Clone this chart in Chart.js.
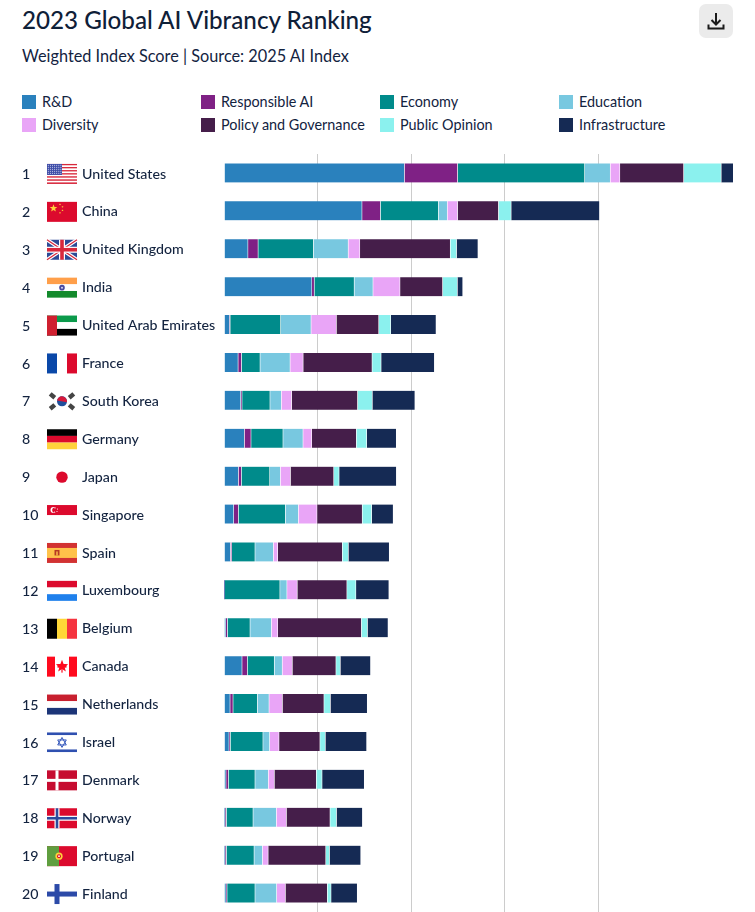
<!DOCTYPE html>
<html>
<head>
<meta charset="utf-8">
<title>2023 Global AI Vibrancy Ranking</title>
<script src="https://cdn.jsdelivr.net/npm/chart.js@4"></script>
<style>
    html, body { margin: 0; padding: 0; background: #fff; overflow: hidden; }
    body { width: 755px; height: 912px; position: relative; font-family: Lato, sans-serif; color: #13233f; }
    h1 { position: absolute; left: 22px; top: 3px; margin: 0; font-size: 24.2px; line-height: 34px; font-weight: 500; color: #0f2038; white-space: nowrap; }
    #subtitle { position: absolute; left: 22px; top: 45px; font-size: 16.3px; line-height: 22px; white-space: nowrap; }
    #download { position: absolute; left: 699px; top: 4px; width: 34px; height: 34px; border-radius: 7px; background: #ebebeb; }
    #download svg { display: block; margin: 7px; }
    .legend-item { position: absolute; font-size: 14.4px; line-height: 14px; white-space: nowrap; }
    .legend-item span { position: absolute; left: 0; top: 0; width: 14px; height: 14px; }
    .legend-item div { position: absolute; left: 20px; top: 0; }
    #chart-box { position: absolute; left: 0; top: 154px; width: 755px; height: 758px; }
</style>
</head>
<body>
<h1>2023 Global AI Vibrancy Ranking</h1>
<div id="subtitle">Weighted Index Score | Source: 2025 AI Index</div>
<div id="download">
    <svg width="20" height="20" viewBox="0 0 20 20" fill="none" stroke="#1a1a1a" stroke-width="2">
        <path d="M10 2V13M5.5 9L10 13.5L14.5 9M2.5 13.5V17.5H17.5V13.5"/>
    </svg>
</div>
<div id="legend"></div>
<div id="chart-box"><canvas id="rankingChart"></canvas></div>

<script>
// --- DATA ---
const countries = ['United States', 'China', 'United Kingdom', 'India', 'United Arab Emirates', 'France', 'South Korea', 'Germany', 'Japan', 'Singapore', 'Spain', 'Luxembourg', 'Belgium', 'Canada', 'Netherlands', 'Israel', 'Denmark', 'Norway', 'Portugal', 'Finland'];

const rd = [19.27, 14.74, 2.55, 9.38, 0.58, 1.50, 1.78, 2.17, 1.53, 1.03, 0.68, 0.04, 0.18, 1.92, 0.64, 0.53, 0.21, 0.11, 0.11, 0.21];
const responsibleAi = [5.69, 1.97, 1.09, 0.26, 0.07, 0.36, 0.14, 0.71, 0.32, 0.50, 0.14, 0.03, 0.18, 0.57, 0.32, 0.14, 0.25, 0.14, 0.14, 0.11];
const economy = [13.58, 6.20, 5.91, 4.27, 5.40, 1.99, 2.99, 3.42, 3.03, 5.02, 2.49, 5.90, 2.42, 2.88, 2.60, 3.49, 2.85, 2.85, 2.96, 2.99];
const education = [2.74, 0.95, 3.72, 2.01, 3.25, 3.21, 1.21, 2.14, 1.14, 1.39, 1.96, 0.75, 2.28, 0.85, 1.25, 0.71, 1.42, 2.49, 0.89, 2.31];
const diversity = [1.02, 1.09, 1.24, 2.88, 2.70, 1.39, 1.10, 0.93, 1.07, 1.99, 0.46, 1.10, 0.68, 1.07, 1.42, 1.00, 0.64, 1.07, 0.61, 0.93];
const policy = [6.82, 4.38, 9.67, 4.56, 4.53, 7.37, 7.05, 4.77, 4.63, 4.84, 6.91, 5.31, 8.94, 4.67, 4.45, 4.38, 4.49, 4.67, 6.16, 4.49];
const publicOpinion = [4.01, 1.35, 0.66, 1.57, 1.28, 0.96, 1.57, 1.10, 0.57, 1.00, 0.64, 0.96, 0.64, 0.46, 0.68, 0.57, 0.61, 0.68, 0.39, 0.39];
const infrastructure = [1.31, 9.45, 2.30, 0.58, 4.85, 5.70, 4.56, 3.17, 6.13, 2.31, 4.38, 3.53, 2.21, 3.24, 3.95, 4.42, 4.52, 2.78, 3.35, 2.81];

const seriesNames = ['R&D', 'Responsible AI', 'Economy', 'Education', 'Diversity', 'Policy and Governance', 'Public Opinion', 'Infrastructure'];
const seriesValues = [rd, responsibleAi, economy, education, diversity, policy, publicOpinion, infrastructure];
const seriesColors = ['#2a81bd', '#7f2185', '#008b8b', '#78c8e0', '#e9a5f7', '#451e4a', '#8bf1ee', '#152a54'];

// --- LEGEND ---
const legendColumns = [22, 201, 380, 559];
const legendRows = [95, 118];
seriesNames.forEach((name, i) => {
    const item = document.createElement('div');
    item.className = 'legend-item';
    item.style.left = legendColumns[i % 4] + 'px';
    item.style.top = legendRows[Math.floor(i / 4)] + 'px';
    item.innerHTML = `<span style="background:${seriesColors[i]}"></span><div>${name.replace('&', '&amp;')}</div>`;
    document.getElementById('legend').appendChild(item);
});

// --- FLAGS (each drawn in a 30x20 box) ---
function rect(c, color, x, y, w, h) {
    c.fillStyle = color;
    c.fillRect(x, y, w, h);
}
function disc(c, color, x, y, r) {
    c.fillStyle = color;
    c.beginPath();
    c.arc(x, y, r, 0, Math.PI * 2);
    c.fill();
}
function hStripes(c, colors) {
    const h = 20 / colors.length;
    colors.forEach((color, i) => rect(c, color, 0, i * h, 30, h));
}
function vStripes(c, colors) {
    const w = 30 / colors.length;
    colors.forEach((color, i) => rect(c, color, i * w, 0, w, 20));
}
function star(c, color, x, y, r) {
    c.fillStyle = color;
    c.beginPath();
    for (let i = 0; i < 10; i++) {
        const a = -Math.PI / 2 + i * Math.PI / 5;
        const d = i % 2 ? r * 0.42 : r;
        c.lineTo(x + Math.cos(a) * d, y + Math.sin(a) * d);
    }
    c.closePath();
    c.fill();
}
function nordicCross(c, color, size) {
    rect(c, color, 10 - size / 2, 0, size, 20);
    rect(c, color, 0, 10 - size / 2, 30, size);
}

const flags = {
    'United States': c => {
        for (let i = 0; i < 13; i++) rect(c, i % 2 ? '#fff' : '#d8283c', 0, i * 20 / 13, 30, 20 / 13);
        rect(c, '#3f4ea8', 0, 0, 15, 11);
        for (let row = 0; row < 5; row++) {
            for (let col = 0; col < 7; col++) disc(c, '#e8e8f8', 1.3 + col * 2.1, 1.4 + row * 2, 0.5);
        }
    },
    'China': c => {
        rect(c, '#dc0a2d', 0, 0, 30, 20);
        star(c, '#ffd23c', 6.5, 6.5, 4);
        [[13, 2.5], [15.5, 5], [15.5, 8.5], [13, 11]].forEach(p => star(c, '#ffd23c', p[0], p[1], 1.2));
    },
    'United Kingdom': c => {
        rect(c, '#2c4a96', 0, 0, 30, 20);
        c.lineCap = 'butt';
        [['#fff', 3.6], ['#d8283c', 1.3]].forEach(s => {
            c.strokeStyle = s[0];
            c.lineWidth = s[1];
            c.beginPath();
            c.moveTo(0, 0); c.lineTo(30, 20);
            c.moveTo(30, 0); c.lineTo(0, 20);
            c.stroke();
        });
        rect(c, '#fff', 12, 0, 6, 20);
        rect(c, '#fff', 0, 7, 30, 6);
        rect(c, '#d8283c', 13.2, 0, 3.6, 20);
        rect(c, '#d8283c', 0, 8.2, 30, 3.6);
    },
    'India': c => {
        hStripes(c, ['#ff9f4a', '#fff', '#138a2c']);
        disc(c, '#4a4aa0', 15, 10, 2.8);
        disc(c, '#d8d8f0', 15, 10, 1);
    },
    'United Arab Emirates': c => {
        hStripes(c, ['#0b9a4b', '#fff', '#000']);
        rect(c, '#cf2030', 0, 0, 10, 20);
    },
    'France': c => vStripes(c, ['#0a48a8', '#fff', '#dc0a2d']),
    'South Korea': c => {
        [[5.5, 4.5, 0.7], [24.5, 4.5, -0.7], [5.5, 15.5, -0.7], [24.5, 15.5, 0.7]].forEach(t => {
            c.save();
            c.translate(t[0], t[1]);
            c.rotate(t[2]);
            rect(c, '#444', -3, -2.2, 6, 4.4);
            c.restore();
        });
        disc(c, '#1f4f9c', 15, 10, 5);
        c.fillStyle = '#d8183a';
        c.beginPath();
        c.arc(15, 10, 5, Math.PI * 1.05, Math.PI * 2.05);
        c.fill();
    },
    'Germany': c => hStripes(c, ['#000', '#dc0a2d', '#ffd23c']),
    'Japan': c => disc(c, '#dc0a2d', 15, 10, 5.7),
    'Singapore': c => {
        rect(c, '#dc0a2d', 0, 0, 30, 10);
        disc(c, '#fff', 6.5, 5, 3);
        disc(c, '#dc0a2d', 7.8, 5, 2.6);
        [[8, 3], [10.5, 4], [10, 6.5], [7.5, 7]].forEach(p => disc(c, '#fff', p[0], p[1], 0.55));
    },
    'Spain': c => {
        rect(c, '#d23232', 0, 0, 30, 20);
        rect(c, '#ffc24a', 0, 5, 30, 10);
        rect(c, '#b83a22', 7.5, 7, 5, 5.5);
        rect(c, '#ffc24a', 9.3, 8.5, 1.4, 4);
    },
    'Luxembourg': c => hStripes(c, ['#dc0a2d', '#fff', '#1f80ec']),
    'Belgium': c => vStripes(c, ['#000', '#ffd737', '#f5333f']),
    'Canada': c => {
        rect(c, '#ff0a1e', 0, 0, 8, 20);
        rect(c, '#ff0a1e', 22, 0, 8, 20);
        star(c, '#ff0a1e', 15, 9.5, 6.5);
        rect(c, '#ff0a1e', 14.4, 11, 1.2, 5);
        rect(c, '#ff0a1e', 10.5, 7.5, 9, 3.5);
    },
    'Netherlands': c => hStripes(c, ['#c8202f', '#fff', '#1c3578']),
    'Israel': c => {
        rect(c, '#2f50b0', 0, 0, 30, 2.6);
        rect(c, '#2f50b0', 0, 17, 30, 2.6);
        c.strokeStyle = '#3558bc';
        c.lineWidth = 1;
        [-1, 1].forEach(d => {
            c.beginPath();
            c.moveTo(15, 10 + d * 5);
            c.lineTo(15 + 4.3, 10 - d * 2.5);
            c.lineTo(15 - 4.3, 10 - d * 2.5);
            c.closePath();
            c.stroke();
        });
    },
    'Denmark': c => {
        rect(c, '#c60c30', 0, 0, 30, 20);
        nordicCross(c, '#fff', 3);
    },
    'Norway': c => {
        rect(c, '#dc0a2d', 0, 0, 30, 20);
        nordicCross(c, '#fff', 5);
        nordicCross(c, '#2c4a9c', 2.6);
    },
    'Portugal': c => {
        rect(c, '#dc0a2d', 0, 0, 30, 20);
        rect(c, '#5f9e3f', 0, 0, 12, 20);
        disc(c, '#ffd23c', 12, 10, 3.6);
        disc(c, '#dc0a2d', 12, 10, 2);
        disc(c, '#fff', 12, 10, 0.9);
    },
    'Finland': c => nordicCross(c, '#2c4aa8', 5)
};

// Draws the rank number and the flag to the left of each country name
const rowHeadPlugin = {
    id: 'rowHead',
    afterDraw(chart) {
        const c = chart.ctx;
        const yScale = chart.scales.y;
        countries.forEach((name, i) => {
            const y = yScale.getPixelForTick(i);
            c.save();
            c.font = '500 14.2px Lato, sans-serif';
            c.fillStyle = '#13233f';
            c.textAlign = 'left';
            c.textBaseline = 'middle';
            c.fillText(String(i + 1), 22, y + 1.5);
            c.translate(47, y - 9);
            flags[name](c);
            c.restore();
        });
    }
};

// --- CHART ---
new Chart(document.getElementById('rankingChart'), {
    type: 'bar',
    plugins: [rowHeadPlugin],
    data: {
        labels: countries,
        datasets: seriesNames.map((name, i) => ({
            label: name,
            data: seriesValues[i],
            backgroundColor: seriesColors[i],
            borderColor: '#fff',
            borderWidth: { left: 0.6, right: 0.6, top: 0, bottom: 0 },
            borderSkipped: false,
            barThickness: 19
        }))
    },
    options: {
        indexAxis: 'y',
        responsive: true,
        maintainAspectRatio: false,
        animation: false,
        layout: { padding: { left: 82, right: 22, top: 0, bottom: 0 } },
        plugins: { legend: { display: false } },
        scales: {
            x: {
                stacked: true,
                min: 0,
                max: 54.4,
                ticks: { display: false, stepSize: 10 },
                border: { display: false },
                grid: {
                    drawTicks: false,
                    color: ctx => ctx.tick.value === 0 || ctx.tick.value > 50 ? 'transparent' : '#cccccc'
                }
            },
            y: {
                stacked: true,
                // the gridlines run the full height, so no room is kept for the first and last label
                afterFit: scale => {
                    scale.width = 142;
                    scale.paddingTop = 0;
                    scale.paddingBottom = 0;
                },
                border: { display: false },
                grid: { display: false },
                ticks: {
                    crossAlign: 'far',
                    autoSkip: false,
                    labelOffset: 1,
                    color: '#13233f',
                    font: { family: 'Lato, sans-serif', size: 14.2, weight: '500' }
                }
            }
        }
    }
});
</script>
</body>
</html>
